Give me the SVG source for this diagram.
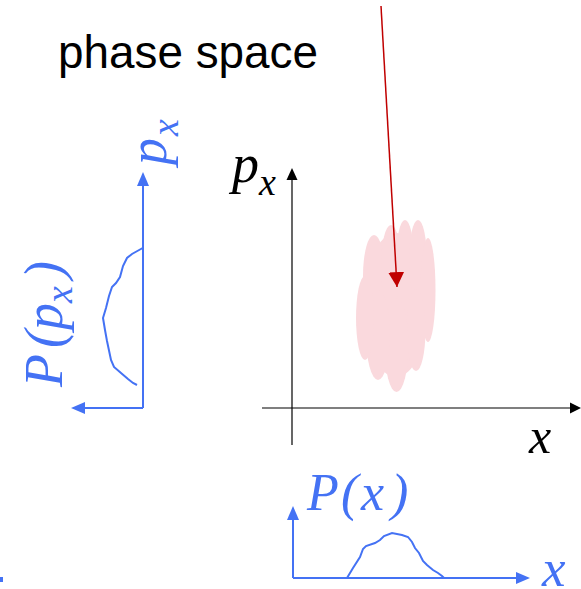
<svg xmlns="http://www.w3.org/2000/svg" width="581" height="589" viewBox="0 0 581 589">
<style>
.ax{stroke:#000;stroke-width:1.2;fill:none}
.bl{stroke:#4472F4;stroke-width:2;fill:none}
.blf{fill:#4472F4}
.math{font-family:"Liberation Serif","DejaVu Serif",serif;font-style:italic}
.cl{fill:#FAD9DD}
</style>
<defs>
<marker id="redArrow" markerUnits="userSpaceOnUse" markerWidth="16" markerHeight="16" viewBox="0 0 14 14" refX="13" refY="7" orient="auto">
<path d="M0,0 L13,7 L0,14 Z" fill="#C00000"/>
</marker>
</defs>
<rect width="581" height="589" fill="#fff"/>
<g id="title">
<text x="58" y="68" font-family="Liberation Sans, Arial, sans-serif" font-size="47" textLength="260" lengthAdjust="spacingAndGlyphs">phase space</text>
</g>
<g id="phase-plot">
<line class="ax" x1="292" y1="445" x2="292" y2="178"/>
<path d="M292,168 L286.5,180 L297.5,180 Z" fill="#000"/>
<line class="ax" x1="262" y1="408" x2="572" y2="408"/>
<path d="M581,408 L570,402.5 L570,413.5 Z" fill="#000"/>
<text class="math" font-size="54" x="232" y="182">p</text>
<text class="math" font-size="38" x="259" y="195">x</text>
<text class="math" font-size="50" x="529" y="453">x</text>
</g>
<g id="cloud">
<ellipse class="cl" cx="396" cy="305" rx="32" ry="72"/>
<ellipse class="cl" cx="374" cy="276" rx="11" ry="41"/>
<ellipse class="cl" cx="391" cy="266" rx="10" ry="41"/>
<ellipse class="cl" cx="405" cy="261" rx="9" ry="41"/>
<ellipse class="cl" cx="418" cy="261" rx="9" ry="41"/>
<ellipse class="cl" cx="428" cy="290" rx="7.5" ry="52"/>
<ellipse class="cl" cx="416" cy="330" rx="9.5" ry="41"/>
<ellipse class="cl" cx="396.5" cy="345" rx="12" ry="47"/>
<ellipse class="cl" cx="378" cy="335" rx="12" ry="45"/>
<ellipse class="cl" cx="365" cy="318" rx="9" ry="42"/>
</g>
<g id="connectors">
<line x1="381" y1="6" x2="397" y2="287" stroke="#C00000" stroke-width="1.5" marker-end="url(#redArrow)"/>
</g>
<g id="px-distribution">
<line class="bl" x1="143" y1="408" x2="143" y2="184"/>
<path class="blf" d="M143,172 L137,186 L149,186 Z"/>
<line class="bl" x1="143" y1="408" x2="83" y2="408"/>
<path class="blf" d="M71,408 L85,402 L85,414 Z"/>
<path class="bl" d="M142.7,248 L132,254 L127,258 L123,266 L120,277 L116,283 L112,287 L109,296 L106,308 L103,318 L105,330 L107,341 L111,360 L114,367 L121,373 L128,379 L133,383 L137,385"/>
<text class="math blf" font-size="34" transform="translate(166,165) rotate(-90)"><tspan x="0" y="0" font-size="54">p</tspan><tspan x="29" y="12" font-size="38">x</tspan></text>
<text class="math blf" font-size="54" transform="translate(62,387) rotate(-90)"><tspan x="0" y="0">P</tspan><tspan x="39" y="0">(</tspan><tspan x="57" y="0">p</tspan><tspan x="84" y="10" font-size="38">x</tspan><tspan x="108" y="0">)</tspan></text>
</g>
<g id="x-distribution">
<line class="bl" x1="293" y1="578" x2="293" y2="518"/>
<path class="blf" d="M293,506 L287,520 L299,520 Z"/>
<line class="bl" x1="293" y1="578" x2="518" y2="578"/>
<path class="blf" d="M530,578 L516,572 L516,584 Z"/>
<path class="bl" d="M347,578 L353,568 L360,557 L363,549 L366,546 L375,543 L380,540 L384,536 L392,533 L402,535 L408,537 L412,542 L415,548 L419,553 L423,561 L427,565 L433,570 L438,573 L442,576 L444,578"/>
<text class="math blf" font-size="52" y="510"><tspan x="307">P</tspan><tspan x="341">(</tspan><tspan x="361">x</tspan><tspan x="391">)</tspan></text>
<text class="math blf" font-size="53" x="542" y="586">x</text>
</g>
<rect x="0" y="577" width="3" height="5" fill="#4472F4"/>
</svg>
